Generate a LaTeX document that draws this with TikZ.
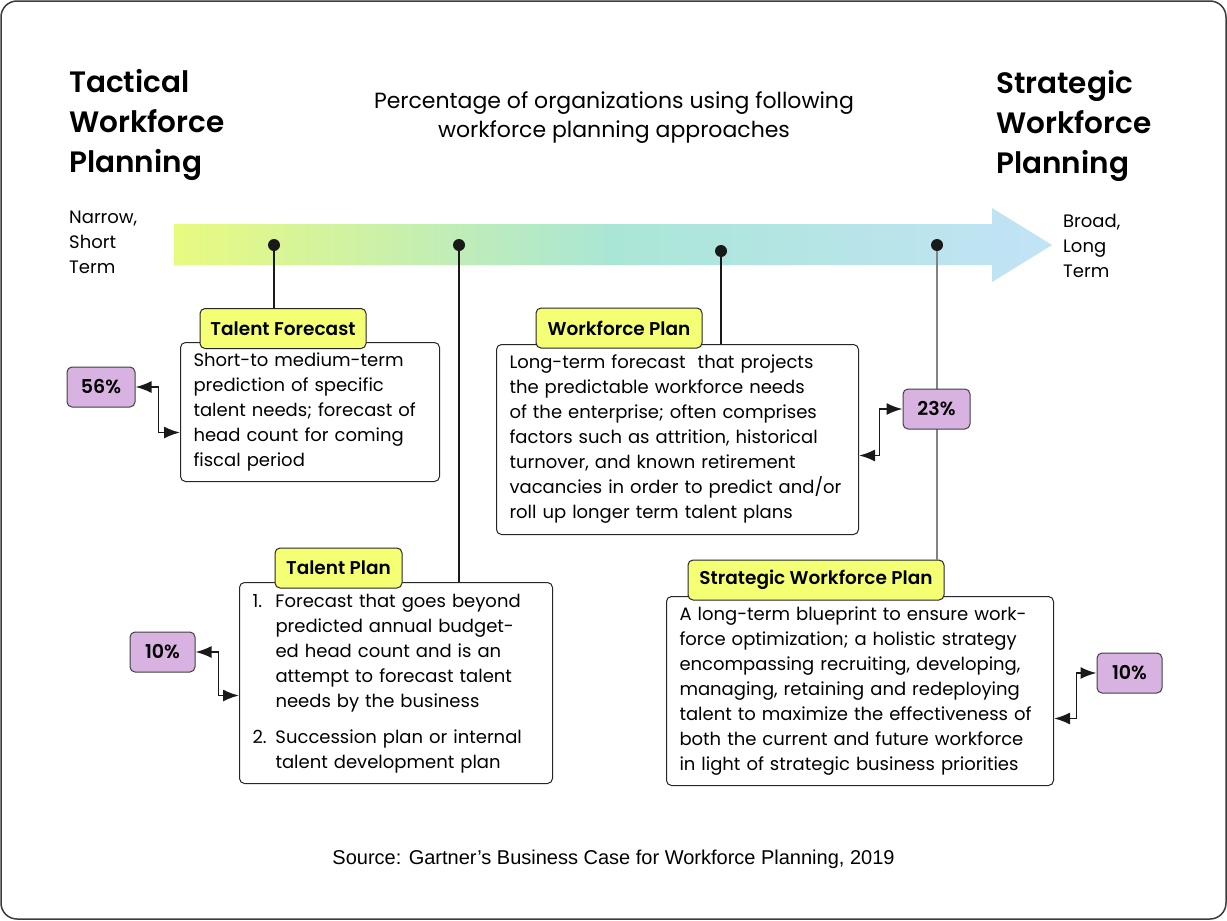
\documentclass[tikz,border=0pt]{standalone}
\usepackage{fontspec}
\setmainfont{Poppins}
\newfontfamily\tagfont{Poppins SemiBold}
\newfontfamily\srcfont{Liberation Sans}
\usetikzlibrary{arrows.meta,calc,positioning}
\definecolor{tagyellow}{RGB}{245,255,115}
\definecolor{pctpurple}{RGB}{216,178,224}
\definecolor{barleft}{RGB}{232,250,128}
\definecolor{barmid}{RGB}{170,230,214}
\definecolor{barright}{RGB}{194,227,247}
\definecolor{framegray}{RGB}{60,60,60}
\definecolor{stemgray}{RGB}{130,130,130}

\tikzset{
  linktip/.tip={Latex[length=16pt,width=12pt]},
  descbox/.style={draw=black!85, line width=1pt, rounded corners=5pt, fill=white,
    anchor=north west, align=left, inner xsep=13pt, inner ysep=0pt,
    font=\fontsize{18}{25}\selectfont},
  tagbox/.style={draw=black!85, line width=1pt, rounded corners=5pt, fill=tagyellow,
    minimum height=40pt, inner sep=0pt, font=\tagfont\fontsize{18.5}{22}\selectfont},
  pctbox/.style={draw=black!75, line width=1pt, rounded corners=5pt, fill=pctpurple,
    minimum height=40pt, inner sep=0pt, font=\tagfont\fontsize{19}{22}\selectfont},
  dot/.style={circle, fill=black!90, inner sep=0pt, minimum size=12pt},
  stem/.style={line width=1.2pt, black!90},
  link/.style={line width=1.8pt, black!90, linktip-linktip},
}

\begin{document}
\begin{tikzpicture}[x=1pt, y=-1pt]
\useasboundingbox (0,0) rectangle (1227,921);

% Frame
\draw[framegray, line width=1.5pt, rounded corners=16pt] (1,1) rectangle (1226,919);

% Headings
\node[anchor=north west, inner sep=0pt, align=left, font=\tagfont\fontsize{29.5}{40}\selectfont]
  (tactical) at (69,69) {Tactical\\Workforce\\Planning};
\node[anchor=north west, inner sep=0pt, align=left, font=\tagfont\fontsize{29.5}{40}\selectfont]
  (strategic) at (996,70) {Strategic\\Workforce\\Planning};
\node[anchor=north, inner sep=0pt, align=center, font=\fontsize{22}{29}\selectfont]
  (subtitle) at (614,91) {Percentage of organizations using following\\workforce planning approaches};

% Scale ends
\node[anchor=north west, inner sep=0pt, align=left, font=\fontsize{18}{25}\selectfont]
  (narrow) at (69,211) {Narrow,\\Short\\Term};
\node[anchor=north west, inner sep=0pt, align=left, font=\fontsize{18}{25}\selectfont]
  (broad) at (1063,214) {Broad,\\Long\\Term};

% Gradient arrow
\shade[left color=barleft, right color=barright, middle color=barmid]
  (174,224) -- (992,224) -- (992,208) -- (1052,245) -- (992,282) -- (992,265) -- (174,265) -- cycle;

% Description boxes
\node[descbox, text width=233pt, minimum height=139pt] (tfbox) at (180,342)
  {Short-to medium-term\\prediction of specific\\talent needs; forecast of\\head count for coming\\fiscal period};
\node[descbox, text width=336pt, minimum height=190pt] (wpbox) at (496,344)
  {Long-term forecast \ that projects\\the predictable workforce needs\\of the enterprise; often comprises\\factors such as attrition, historical\\turnover, and known retirement\\vacancies in order to predict and/or\\roll up longer term talent plans};
\node[descbox, text width=287pt, minimum height=201pt] (tpbox) at (239,582)
  {\begin{tabular}{@{}p{23pt}@{}l@{}}
   1. & Forecast that goes beyond\\
      & predicted annual budget-\\
      & ed head count and is an\\
      & attempt to forecast talent\\
      & needs by the business\\[11pt]
   2. & Succession plan or internal\\
      & talent development plan
   \end{tabular}};
\node[descbox, text width=361pt, minimum height=189pt] (swpbox) at (666,596)
  {A long-term blueprint to ensure work-\\force optimization; a holistic strategy\\encompassing recruiting, developing,\\managing, retaining and redeploying\\talent to maximize the effectiveness of\\both the current and future workforce\\in light of strategic business priorities};

% Tags
\node[tagbox, minimum width=166pt] (tf) at (283,328.5) {Talent Forecast};
\node[tagbox, minimum width=166pt] (wp) at (619,328) {Workforce Plan};
\node[tagbox, minimum width=127pt] (tp) at (338.5,568) {Talent Plan};
\node[tagbox, minimum width=256pt] (swp) at (816,580) {Strategic Workforce Plan};

% Points on the scale
\node[dot] (d1) at (274,245) {};
\node[dot] (d2) at (459,245) {};
\node[dot] (d3) at (721,251) {};
\node[dot] (d4) at (937,245) {};

\draw[stem] (d1) -- (d1 |- tf.north);
\draw[stem] (d2) -- (d2 |- tpbox.north);
\draw[stem] (d3) -- (d3 |- wpbox.north);
\draw[stem, stemgray] (d4) -- (d4 |- swp.north);

% Percentages
\node[pctbox, minimum width=68pt] (p56) at (101,387) {56\%};
\node[pctbox, minimum width=67pt] (p23) at (936.5,409) {23\%};
\node[pctbox, minimum width=65pt] (p10a) at (162.5,652) {10\%};
\node[pctbox, minimum width=65pt] (p10b) at (1129.5,673) {10\%};

\draw[link] (p56.east) -- ++(23,0) |- ([yshift=-20.5pt]tfbox.west);
\draw[link] (p10a.east) -- ++(23,0) |- ([yshift=-12.5pt]tpbox.west);
\draw[link] ([yshift=-16pt]wpbox.east) -| ($(p23.west)+(-23,0)$) -- (p23.west);
\draw[link] ([yshift=-27.5pt]swpbox.east) -| ($(p10b.west)+(-20,0)$) -- (p10b.west);

% Source
\node[anchor=north, inner sep=0pt, font=\srcfont\fontsize{20}{24}\selectfont]
  (source) at (613.5,850) {Source: Gartner’s Business Case for Workforce Planning, 2019};
\end{tikzpicture}
\end{document}
